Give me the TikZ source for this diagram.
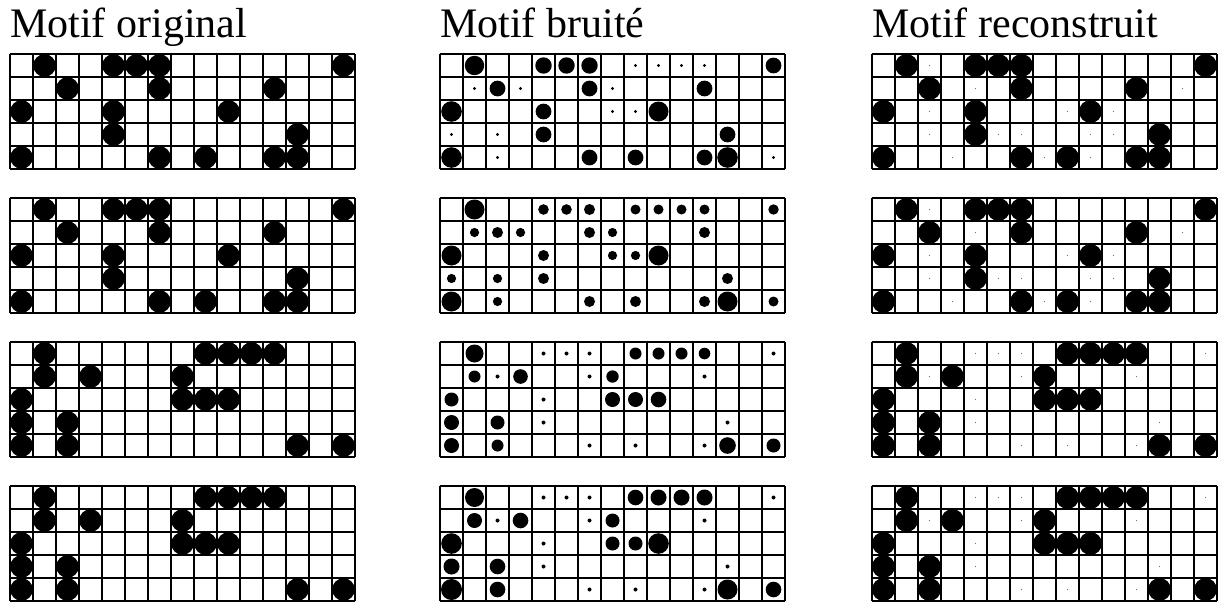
\documentclass[tikz,border=0pt]{standalone}
\usepackage{fontspec}
\setmainfont{Liberation Serif}
\tikzset{
  gridline/.style={line width=0.8pt, draw=black},
  dot/.style={fill=black},
  tinydot/.style={fill=black!55},
  title/.style={anchor=base west, inner sep=0pt, font=\fontsize{31.5pt}{36pt}\selectfont}
}
% patterns: r/c
\def\origA{0/1,0/4,0/5,0/6,0/14,1/2,1/6,1/11,2/0,2/4,2/9,3/4,3/12,4/0,4/6,4/8,4/11,4/12}
\def\origB{0/1,0/8,0/9,0/10,0/11,1/1,1/3,1/7,2/0,2/7,2/8,2/9,3/0,3/2,4/0,4/2,4/12,4/14}
\def\tinyA{0/2,1/4,1/13,2/2,2/8,2/10,3/2,3/5,3/6,3/9,3/10,4/3,4/7,4/9}
\def\tinyB{0/4,0/5,0/6,0/14,1/2,1/6,1/11,2/4,3/4,3/12,4/6,4/8,4/11}
% noisy: r/c/radius(px)
\def\noisyA{0/1/9.7,0/4/8.2,0/5/8.2,0/6/8.2,0/8/1.7,0/9/1.7,0/10/1.7,0/11/1.7,0/14/7.9,1/1/1.7,1/2/7.9,1/3/1.7,1/6/7.9,1/7/1.7,1/11/7.9,2/0/10.3,2/4/7.9,2/7/1.7,2/8/1.7,2/9/10,3/0/1.7,3/2/1.7,3/4/7.9,3/12/7.9,4/0/10.3,4/2/1.7,4/6/7.9,4/8/7.9,4/11/7.9,4/12/10.3,4/14/1.7}
\def\noisyB{0/1/10,0/4/5.3,0/5/5.3,0/6/5.5,0/8/5,0/9/5,0/10/5,0/11/5,0/14/5.2,1/1/4.6,1/2/5.5,1/3/4.6,1/6/5.5,1/7/4.6,1/11/5.5,2/0/10,2/4/5.5,2/7/4.6,2/8/4.6,2/9/10,3/0/4.6,3/2/4.6,3/4/5.5,3/12/5.5,4/0/10,4/2/4.6,4/6/5.5,4/8/5.5,4/11/5.5,4/12/10,4/14/5}
\def\noisyC{0/1/9,0/4/2,0/5/2,0/6/2,0/8/6,0/9/6,0/10/6,0/11/5.8,0/14/2,1/1/6,1/2/2,1/3/7.3,1/6/2,1/7/6.2,1/11/2,2/0/7,2/4/2,2/7/7.5,2/8/7.5,2/9/7.8,3/0/7.5,3/2/7,3/4/2,3/12/2,4/0/7.5,4/2/6,4/6/2,4/8/2,4/11/2,4/12/8.3,4/14/7}
\def\noisyD{0/1/9.5,0/4/2,0/5/2,0/6/2,0/8/7.8,0/9/8,0/10/8,0/11/8,0/14/2,1/1/7.5,1/2/2,1/3/7.8,1/6/2,1/7/7,1/11/2,2/0/10.3,2/4/2,2/7/7,2/8/7,2/9/10.3,3/0/8,3/2/7.8,3/4/2,3/12/2,4/0/10.5,4/2/7.8,4/6/2,4/8/2,4/11/2,4/12/10,4/14/7.8}
% grid lines
\newcommand\hgridlines[2]{%
  \begin{scope}[shift={(#1,#2)}]
    \foreach \i in {0,...,15} \draw[gridline] (23*\i,0) -- (23*\i,115);
    \foreach \j in {0,...,5} \draw[gridline] (0,23*\j) -- (345,23*\j);
  \end{scope}}
% uniform dots: origin x,y ; list ; radius ; style
\newcommand\hdots[5]{%
  \begin{scope}[shift={(#1,#2)}]
    \foreach \r/\c in #3 \fill[#5] ({23*\c+11.5},{23*\r+11.5}) circle[radius={#4*0.75pt}];
  \end{scope}}
\newcommand\hsized[3]{%
  \begin{scope}[shift={(#1,#2)}]
    \foreach \r/\c/\s in #3 \fill[dot] ({23*\c+11.5},{23*\r+11.5}) circle[radius={\s*0.75pt}];
  \end{scope}}
\begin{document}
\begin{tikzpicture}[x=0.75pt,y=-0.75pt]
  \useasboundingbox (0,0) rectangle (1221,603);
  \node[title] (t1) at (10,37) {Motif original};
  \node[title] (t2) at (440,37) {Motif bruité};
  \node[title] (t3) at (872,37) {Motif reconstruit};
  % column 1: original
  \hgridlines{10}{54}  \hdots{10}{54}{\origA}{11.3}{dot}
  \hgridlines{10}{198} \hdots{10}{198}{\origA}{11.3}{dot}
  \hgridlines{10}{342} \hdots{10}{342}{\origB}{11.3}{dot}
  \hgridlines{10}{486} \hdots{10}{486}{\origB}{11.3}{dot}
  % column 2: noisy
  \hgridlines{440}{54}  \hsized{440}{54}{\noisyA}
  \hgridlines{440}{198} \hsized{440}{198}{\noisyB}
  \hgridlines{440}{342} \hsized{440}{342}{\noisyC}
  \hgridlines{440}{486} \hsized{440}{486}{\noisyD}
  % column 3: reconstructed
  \hgridlines{872}{54}  \hdots{872}{54}{\origA}{11.4}{dot}  \hdots{872}{54}{\tinyA}{0.7}{tinydot}
  \hgridlines{872}{198} \hdots{872}{198}{\origA}{11.4}{dot} \hdots{872}{198}{\tinyA}{0.7}{tinydot}
  \hgridlines{872}{342} \hdots{872}{342}{\origB}{11.4}{dot} \hdots{872}{342}{\tinyB}{0.7}{tinydot}
  \hgridlines{872}{486} \hdots{872}{486}{\origB}{11.4}{dot} \hdots{872}{486}{\tinyB}{0.7}{tinydot}
\end{tikzpicture}
\end{document}
